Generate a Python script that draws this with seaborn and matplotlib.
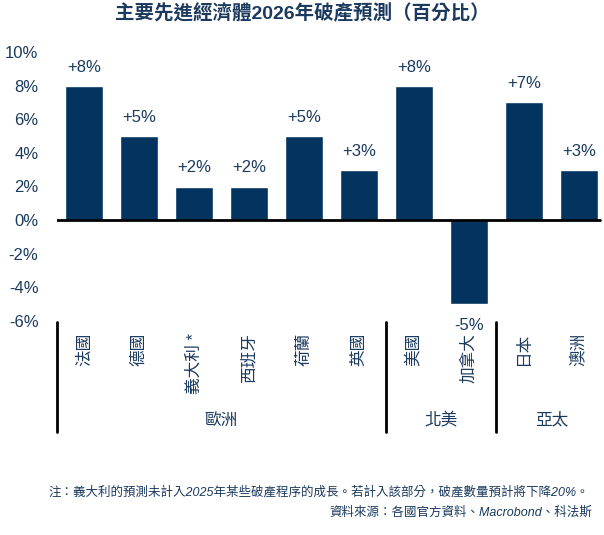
import matplotlib.pyplot as plt
import matplotlib.transforms as mtransforms
import pandas as pd
import seaborn as sns
from matplotlib.lines import Line2D

# Chart data
countries = ['法國', '德國', '義大利 *', '西班牙', '荷蘭', '英國', '美國', '加拿大', '日本', '澳洲']
values = [8, 5, 2, 2, 5, 3, 8, -5, 7, 3]
bar_labels = ['+8%', '+5%', '+2%', '+2%', '+5%', '+3%', '+8%', '-5%', '+7%', '+3%']
regions = ['歐洲', '北美', '亞太']
region_sizes = [6, 2, 2]
y_ticks = [-6, -4, -2, 0, 2, 4, 6, 8, 10]

title = '主要先進經濟體2026年破產預測（百分比）'
note = '注：義大利的預測未計入2025年某些破產程序的成長。若計入該部分，破產數量預計將下降20%。'
source = '資料來源：各國官方資料、Macrobond、科法斯'

bar_color = '#02345f'
text_color = '#1b3a5e'

sns.set_style('white')
plt.rcParams['font.family'] = ['Liberation Sans', 'Noto Sans CJK TC', 'DejaVu Sans']

df = pd.DataFrame({'country': countries, 'value': values})

fig = plt.figure(figsize=(6.04, 5.35), dpi=100)
ax = fig.add_axes([56.5 / 604, 1 - 321 / 535, 550 / 604, 269 / 535])

sns.barplot(data=df, x='country', y='value', order=countries, color=bar_color,
            width=0.68, saturation=1, ax=ax)

ax.set_xlim(-0.5, 9.5)
ax.set_ylim(-6, 10)
ax.set_xlabel('')
ax.set_ylabel('')
ax.set_xticks([])
ax.set_yticks(y_ticks)
ax.set_yticklabels([f'{v}%' for v in y_ticks], color=text_color, fontsize=12)
ax.tick_params(axis='y', length=0, pad=13)
for s in ax.spines.values():
    s.set_visible(False)

# zero line
ax.axhline(0, xmin=0, xmax=(600 - 56.5) / 550, color='black', lw=2)

# value labels
for i, (v, lab) in enumerate(zip(values, bar_labels)):
    if v >= 0:
        ax.annotate(lab, (i, v), xytext=(0, 8), textcoords='offset points',
                    ha='center', va='bottom', fontsize=12, color=text_color)
    else:
        ax.annotate(lab, (i, v), xytext=(0, -10), textcoords='offset points',
                    ha='center', va='top', fontsize=12, color=text_color)

# category labels below the axis
trans = mtransforms.blended_transform_factory(ax.transData, fig.transFigure)
for i, c in enumerate(countries):
    ax.text(i, 1 - 333 / 535, c, rotation=90, ha='center', va='top',
            fontsize=12, color=text_color, transform=trans)

# region separators and names
start = 0
for r, n in zip(regions, region_sizes):
    x0 = start - 0.5
    ax.add_line(Line2D([x0, x0], [1 - 322 / 535, 1 - 432 / 535], transform=trans,
                       color='black', lw=2, clip_on=False))
    ax.text(start + (n - 1) / 2, 1 - 420 / 535, r, ha='center', va='center',
            fontsize=12, color=text_color, transform=trans)
    start += n

fig.text(0.5, 1 - 14 / 535, title, ha='center', va='center', fontsize=14,
         fontweight='bold', color=text_color)
fig.text(0.975, 1 - 492 / 535, note, ha='right', va='center', fontsize=9,
         style='italic', color=text_color)
fig.text(0.98, 1 - 513 / 535, source, ha='right', va='center', fontsize=9,
         style='italic', color=text_color)

fig.savefig('out.png', dpi=100)
